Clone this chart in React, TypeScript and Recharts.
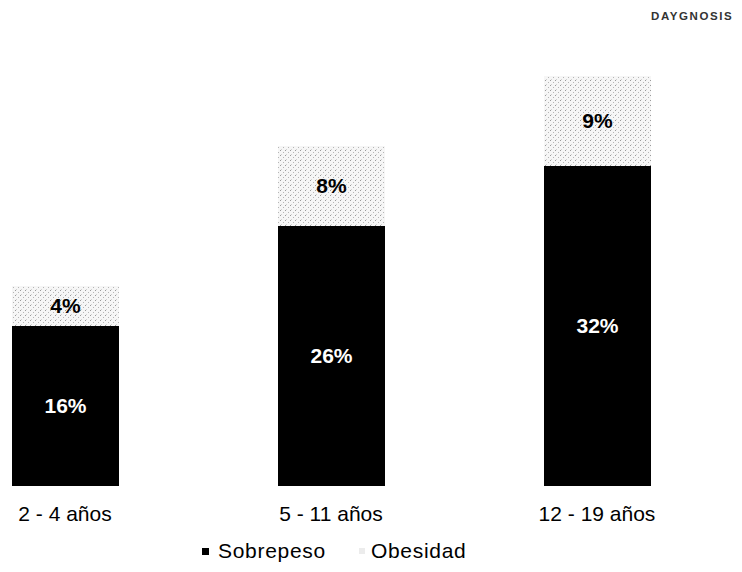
import { Bar, BarChart, LabelList, XAxis, YAxis } from "recharts"

const categories = ["2 - 4 años", "5 - 11 años", "12 - 19 años"]
const sobrepeso = [16, 26, 32]
const obesidad = [4, 8, 9]

const data = categories.map((name, i) => ({
  name,
  sobrepeso: sobrepeso[i],
  obesidad: obesidad[i],
}))

const font = "'Liberation Sans', Arial, sans-serif"

function LegendBox() {
  return (
    <div style={{ position: "absolute", left: 202, top: 539, display: "flex", fontFamily: font, fontSize: 21, letterSpacing: 0.7, color: "#000" }}>
      <span style={{ display: "flex", alignItems: "center", marginRight: 33 }}>
        <span style={{ width: 7, height: 7, background: "#000", marginRight: 9 }} />
        Sobrepeso
      </span>
      <span style={{ display: "flex", alignItems: "center" }}>
        <span style={{ width: 6, height: 6, background: "#ececec", marginRight: 6 }} />
        Obesidad
      </span>
    </div>
  )
}

export default function App() {
  return (
    <div style={{ position: "absolute", left: 0, top: 0, width: 742, height: 572, background: "#fff" }}>
      <div style={{ position: "absolute", left: 651, top: 10, fontFamily: font, fontSize: 11.5, fontWeight: 700, letterSpacing: 1.6, color: "#333" }}>
        DAYGNOSIS
      </div>
      <BarChart width={742} height={572} data={data} margin={{ top: 36, right: 0, bottom: 56, left: 0 }}>
        <defs>
          <pattern id="dots" width="5" height="5" patternUnits="userSpaceOnUse">
            <rect width="5" height="5" fill="#f6f6f6" />
            <rect x="0" y="0" width="1" height="1" fill="#9a9a9a" />
            <rect x="3" y="2" width="1" height="1" fill="#b5b5b5" />
            <rect x="1" y="4" width="1" height="1" fill="#d2d2d2" />
          </pattern>
        </defs>
        <XAxis
          dataKey="name"
          axisLine={false}
          tickLine={false}
          height={30}
          padding={{ left: -68, right: 12 }}
          tick={{ fill: "#000", fontSize: 21, fontFamily: font }}
          dy={12}
        />
        <YAxis hide domain={[0, 45]} />
        <Bar dataKey="sobrepeso" stackId="a" fill="#000" barSize={107} isAnimationActive={false}>
          <LabelList dataKey="sobrepeso" position="center" formatter={(v: number) => `${v}%`} fill="#fff" fontSize={21} fontWeight={700} fontFamily={font} />
        </Bar>
        <Bar dataKey="obesidad" stackId="a" fill="url(#dots)" barSize={107} isAnimationActive={false}>
          <LabelList dataKey="obesidad" position="center" formatter={(v: number) => `${v}%`} fill="#000" fontSize={21} fontWeight={700} fontFamily={font} />
        </Bar>
      </BarChart>
      <LegendBox />
    </div>
  )
}
